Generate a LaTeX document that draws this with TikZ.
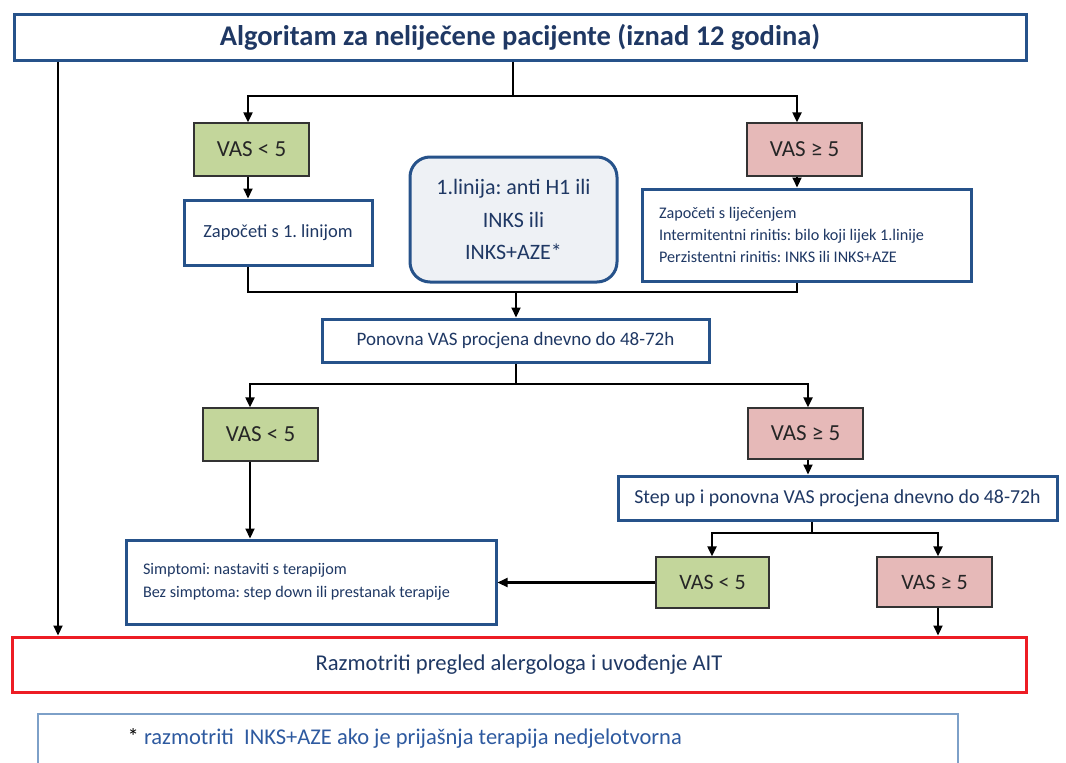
\documentclass[tikz,border=0pt]{standalone}
\usepackage{fontspec}
\setmainfont{Carlito}
\usetikzlibrary{arrows.meta,calc}
\definecolor{bord}{RGB}{38,82,138}
\definecolor{navy}{RGB}{31,56,100}
\definecolor{vgreen}{RGB}{195,214,155}
\definecolor{vpink}{RGB}{230,185,184}
\definecolor{rbfill}{RGB}{238,241,245}
\definecolor{redb}{RGB}{237,28,36}
\definecolor{noteb}{RGB}{125,160,200}
\definecolor{notet}{RGB}{46,90,160}
\frenchspacing
\tikzset{
  bluebox/.style={draw=bord, line width=3pt, fill=white, text=navy, inner sep=0pt, align=flush center},
  vasbox/.style={draw=black!80, line width=1.4pt, text=black!85, inner sep=0pt, font=\fontsize{23}{27}\selectfont},
  conn/.style={black, line width=2.2pt},
  arr/.style={conn, -{Triangle[length=10pt,width=9pt]}},
}
\begin{document}
\begin{tikzpicture}[x=1pt,y=-1pt]
\useasboundingbox (0,0) rectangle (1066,763);
\clip (0,0) rectangle (1066,763);
% coordinates for connector columns
\coordinate (xL) at (58,0);
\coordinate (cA) at (248,0);
\coordinate (cB) at (797,0);
\coordinate (cC) at (250,0);
\coordinate (cD) at (808,0);
\coordinate (cE) at (712,0);
\coordinate (cF) at (938,0);
\coordinate (j1) at (513,96);
\coordinate (j2) at (516,292);
\coordinate (j3) at (516,384);
\coordinate (j4) at (812,533);

\node[bluebox, minimum width=1012pt, minimum height=46pt, font=\fontsize{28.5}{32}\selectfont\bfseries] (title) at (520,37) {Algoritam za neliječene pacijente (iznad 12 godina)};

\node[vasbox, fill=vgreen, minimum width=115pt, minimum height=53pt] (v1a) at (251.5,149.5) {VAS < 5};
\node[vasbox, fill=vpink, minimum width=115pt, minimum height=53pt] (v1b) at (804.5,149.5) {VAS ≥ 5};

\node[bluebox, minimum width=188pt, minimum height=65pt, font=\fontsize{18.5}{22}\selectfont] (zap) at (278,232.5) {Započeti s 1. linijom};

\node[draw=bord, line width=3pt, fill=rbfill, text=navy, rounded corners=20pt, minimum width=207pt, minimum height=125pt, align=flush center, font=\fontsize{22}{32.5}\selectfont] (first) at (513.5,219.5) {1.linija: anti H1 ili\\INKS ili\\INKS+AZE*};

\node[bluebox, minimum width=329pt, minimum height=92pt, text width=295pt, inner xsep=17pt, align=flush left, font=\fontsize{16.2}{22}\selectfont] (rb) at (806.5,235) {Započeti s liječenjem\\Intermitentni rinitis: bilo koji lijek 1.linije\\Perzistentni rinitis: INKS ili INKS+AZE};

\node[bluebox, minimum width=387pt, minimum height=43pt, font=\fontsize{19}{22}\selectfont] (pon) at (515.5,340.5) {Ponovna VAS procjena dnevno do 48-72h};

\node[vasbox, fill=vgreen, minimum width=115pt, minimum height=53pt] (v2a) at (260.5,434.5) {VAS < 5};
\node[vasbox, fill=vpink, minimum width=115pt, minimum height=51pt] (v2b) at (805.5,433.5) {VAS ≥ 5};

\node[bluebox, minimum width=439pt, minimum height=44pt, font=\fontsize{19.8}{22}\selectfont] (step) at (837.5,498) {Step up i ponovna VAS procjena dnevno do 48-72h};

\node[bluebox, minimum width=370pt, minimum height=84pt, text width=336pt, inner xsep=17pt, align=flush left, font=\fontsize{16.2}{23}\selectfont] (simp) at (311,582) {Simptomi: nastaviti s terapijom\\Bez simptoma: step down ili prestanak terapije};

\node[vasbox, fill=vgreen, minimum width=113pt, minimum height=51pt, font=\fontsize{22}{26}\selectfont] (v3a) at (712.5,582.5) {VAS < 5};
\node[vasbox, fill=vpink, minimum width=115pt, minimum height=50pt, font=\fontsize{22}{26}\selectfont] (v3b) at (934.5,582) {VAS ≥ 5};

\node[draw=redb, line width=3pt, fill=white, text=navy, inner sep=0pt, minimum width=1014pt, minimum height=55pt, font=\fontsize{22.6}{26}\selectfont] (red) at (519,664.5) {Razmotriti pregled alergologa i uvođenje AIT};

\node[draw=noteb, line width=1.5pt, fill=white, inner sep=0pt, minimum width=920pt, text width=920pt, align=flush left, font=\fontsize{22.5}{24}\selectfont, anchor=north west, text depth=30pt, text height=31pt] (note) at (37,713) {\hspace*{90pt}\textcolor{black}{*} \textcolor{notet}{razmotriti\ \ INKS+AZE ako je prijašnja terapija nedjelotvorna}};

% connectors
\draw[arr] (title.south -| xL) -- (red.north -| xL);
\draw[conn] (title.south -| j1) -- (j1);
\draw[arr] (j1) -| (v1a.north -| cA);
\draw[arr] (j1) -| (v1b.north -| cB);
\draw[arr] (v1a.south -| cA) -- (zap.north -| cA);
\draw[arr] (v1b.south -| cB) -- (rb.north -| cB);
\draw[conn] (zap.south -| cA) -- (cA |- j2) -- (cB |- j2) -- (rb.south -| cB);
\draw[arr] (j2) -- (pon.north -| j2);
\draw[conn] (pon.south -| j3) -- (j3);
\draw[arr] (j3) -| (v2a.north -| cC);
\draw[arr] (j3) -| (v2b.north -| cD);
\draw[arr] (v2b.south -| cD) -- (step.north -| cD);
\draw[arr] (v2a.south -| cC) -- (simp.north -| cC);
\draw[conn] (step.south -| j4) -- (j4);
\draw[arr] (j4) -| (v3a.north -| cE);
\draw[arr] (j4) -| (v3b.north -| cF);
\draw[arr] (v3a.west) -- (simp.east |- v3a.west);
\draw[arr] (v3b.south -| cF) -- (red.north -| cF);
\end{tikzpicture}
\end{document}
